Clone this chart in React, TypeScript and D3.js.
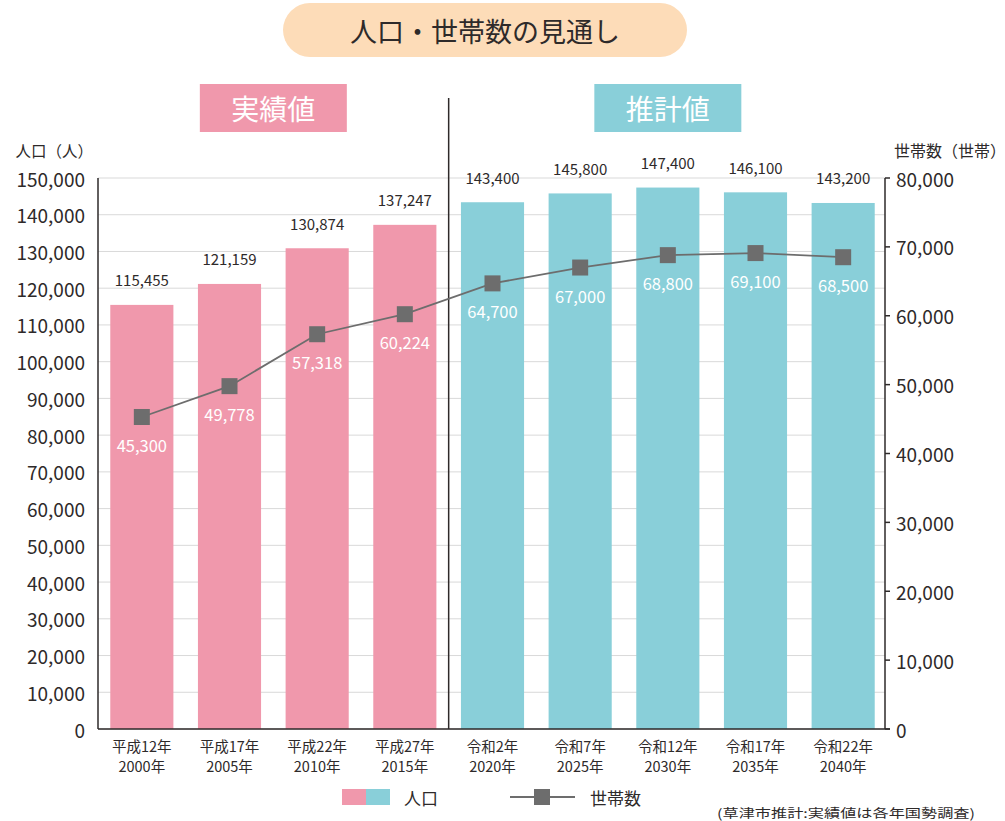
import * as d3 from "d3";
import React from "react";

const width = 1005;
const height = 821;
const margin = { top: 178, right: 120, bottom: 92, left: 98 };

const eraLabels = ["平成12年", "平成17年", "平成22年", "平成27年", "令和2年", "令和7年", "令和12年", "令和17年", "令和22年"];
const yearLabels = ["2000年", "2005年", "2010年", "2015年", "2020年", "2025年", "2030年", "2035年", "2040年"];
const population = [115455, 121159, 130874, 137247, 143400, 145800, 147400, 146100, 143200];
const households = [45300, 49778, 57318, 60224, 64700, 67000, 68800, 69100, 68500];
const isEstimate = [false, false, false, false, true, true, true, true, true];
const leftTicks = d3.range(0, 150001, 10000);
const rightTicks = d3.range(0, 80001, 10000);

const pink = "#f098ac";
const teal = "#89cfd9";
const gray = "#6d6d6d";
const ink = "#2e2a2a";
const font = "'Noto Sans CJK JP', 'Noto Sans', sans-serif";

const App = () => {
  const x0 = margin.left;
  const x1 = width - margin.right;
  const yBottom = height - margin.bottom;

  const xScale = d3
    .scaleBand<string>()
    .domain(yearLabels)
    .range([x0, x1 + 2])
    .paddingInner(0.28)
    .paddingOuter(0.14);

  const yLeft = d3.scaleLinear().domain([0, 150000]).range([yBottom, margin.top]);
  const yRight = d3.scaleLinear().domain([0, 80000]).range([yBottom, margin.top]);
  const fmt = d3.format(",");

  const cx = (i: number) => (xScale(yearLabels[i]) as number) + xScale.bandwidth() / 2;

  const line = d3
    .line<number>()
    .x((d, i) => cx(i))
    .y((d) => yRight(d));

  // divider between actual and estimate
  const divX = ((xScale(yearLabels[3]) as number) + xScale.bandwidth() + (xScale(yearLabels[4]) as number)) / 2;
  const actualCenter = (cx(0) + cx(3)) / 2;
  const estCenter = (cx(4) + cx(8)) / 2;

  return (
    <svg
      width={width}
      height={height}
      style={{ position: "absolute", left: 0, top: 0, background: "#fff" }}
      fontFamily={font}
    >
      {/* title pill */}
      <rect x={283} y={3} width={404} height={54} rx={27} fill="#fddcb8" />
      <text x={485} y={30} textAnchor="middle" dominantBaseline="central" fontSize={27} fill={ink}>
        人口・世帯数の見通し
      </text>

      {/* section headers */}
      <rect x={actualCenter - 73.5} y={84} width={147} height={48} fill={pink} />
      <text x={actualCenter} y={108} textAnchor="middle" dominantBaseline="central" fontSize={28} fill="#fff">
        実績値
      </text>
      <rect x={estCenter - 73.5} y={84} width={147} height={48} fill={teal} />
      <text x={estCenter} y={108} textAnchor="middle" dominantBaseline="central" fontSize={28} fill="#fff">
        推計値
      </text>

      {/* gridlines */}
      {leftTicks.map((t) => (
        <line key={t} x1={x0} x2={x1} y1={yLeft(t)} y2={yLeft(t)} stroke="#d9d9d9" strokeWidth={1} />
      ))}

      {/* bars */}
      {population.map((v, i) => (
        <rect
          key={i}
          x={xScale(yearLabels[i])}
          y={yLeft(v)}
          width={xScale.bandwidth()}
          height={yBottom - yLeft(v)}
          fill={isEstimate[i] ? teal : pink}
        />
      ))}
      {population.map((v, i) => (
        <text key={i} x={cx(i)} y={yLeft(v) - 25} textAnchor="middle" dominantBaseline="central" fontSize={15} fill={ink}>
          {fmt(v)}
        </text>
      ))}

      {/* divider */}
      <line x1={divX} x2={divX} y1={98} y2={yBottom} stroke={ink} strokeWidth={1.5} />

      {/* axes */}
      <line x1={x0} x2={x0} y1={margin.top} y2={yBottom} stroke={ink} strokeWidth={1.5} />
      <line x1={x1} x2={x1} y1={margin.top} y2={yBottom} stroke={ink} strokeWidth={1.5} />
      <line x1={x0} x2={x1 + 5} y1={yBottom} y2={yBottom} stroke={ink} strokeWidth={1.5} />
      {leftTicks.map((t) => (
        <text key={t} x={85} y={yLeft(t)} textAnchor="end" dominantBaseline="central" fontSize={19} fill={ink}>
          {fmt(t)}
        </text>
      ))}
      {rightTicks.map((t) => (
        <g key={t}>
          <line x1={x1} x2={x1 + 5} y1={yRight(t)} y2={yRight(t)} stroke={ink} strokeWidth={1.5} />
          <text x={896} y={yRight(t)} textAnchor="start" dominantBaseline="central" fontSize={19} fill={ink}>
            {fmt(t)}
          </text>
        </g>
      ))}
      <text x={93} y={150} textAnchor="end" dominantBaseline="central" fontSize={15.5} fill={ink}>
        人口（人）
      </text>
      <text x={894} y={150} textAnchor="start" dominantBaseline="central" fontSize={16} fill={ink}>
        世帯数（世帯）
      </text>

      {/* x labels */}
      {yearLabels.map((y, i) => (
        <g key={y}>
          <text x={cx(i)} y={745} textAnchor="middle" dominantBaseline="central" fontSize={14.5} fill={ink}>
            {eraLabels[i]}
          </text>
          <text x={cx(i)} y={765} textAnchor="middle" dominantBaseline="central" fontSize={14.5} fill={ink}>
            {y}
          </text>
        </g>
      ))}

      {/* households line */}
      <path d={line(households) || ""} fill="none" stroke={gray} strokeWidth={1.8} />
      {households.map((v, i) => (
        <g key={i}>
          <rect x={cx(i) - 8} y={yRight(v) - 8} width={16} height={16} fill={gray} />
          <text x={cx(i)} y={yRight(v) + 28} textAnchor="middle" dominantBaseline="central" fontSize={16.5} fill="#fff">
            {fmt(v)}
          </text>
        </g>
      ))}

      {/* legend */}
      <rect x={342} y={789} width={24} height={16} fill={pink} />
      <rect x={366} y={789} width={24} height={16} fill={teal} />
      <text x={404} y={797} dominantBaseline="central" fontSize={17} fill={ink}>
        人口
      </text>
      <line x1={510} x2={575} y1={797} y2={797} stroke={gray} strokeWidth={1.8} />
      <rect x={534} y={789} width={16} height={16} fill={gray} />
      <text x={590} y={797} dominantBaseline="central" fontSize={17} fill={ink}>
        世帯数
      </text>
      <text x={717} y={812} dominantBaseline="central" fontSize={12.5} fill={ink} textLength={258} lengthAdjust="spacingAndGlyphs">
        (草津市推計:実績値は各年国勢調査)
      </text>
    </svg>
  );
};

export default App;
